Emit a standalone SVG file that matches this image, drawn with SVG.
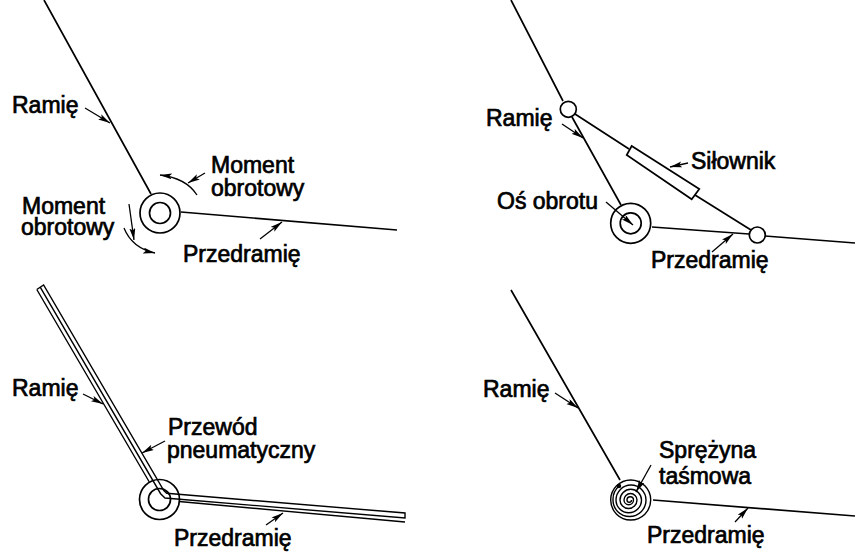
<svg xmlns="http://www.w3.org/2000/svg" width="855" height="553" viewBox="0 0 855 553">
<defs>
<marker id="a" markerUnits="userSpaceOnUse" markerWidth="13" markerHeight="8" refX="12" refY="3" orient="auto"><path d="M0 0L12 3L0 6L2.5 3Z" fill="#000"/></marker>
</defs>
<style>
.l{fill:none;stroke:#000;stroke-width:1.7;stroke-linecap:butt}
.s{fill:none;stroke:#000;stroke-width:1.4;stroke-linecap:butt}
.j{fill:#fff;stroke:#000;stroke-width:1.7}
.c{fill:none;stroke:#000;stroke-width:1.3;marker-end:url(#a)}
text{font-family:"Liberation Sans",Arial,sans-serif;font-size:23px;fill:#000;stroke:#000;stroke-width:.7}
</style>
<rect width="855" height="553" fill="#fff"/>
<g id="panel-torque">
<path class="l" d="M44 0L151 194M181 212L397 230"/>
<circle class="l" cx="160" cy="213" r="20"/><circle class="l" cx="160" cy="213" r="10.5"/>
<text x="12" y="113">Ramię</text>
<text x="211" y="173">Moment</text><text x="211" y="196">obrotowy</text>
<text x="22" y="214">Moment</text><text x="21" y="235">obrotowy</text>
<text x="183" y="262">Przedramię</text>
</g>
<g id="panel-actuator">
<path class="l" d="M511 0L563 101M572 117L621 205M652 227L749 234M765 236L855 243M575 114L629 149M695 195L751 230"/>
<circle class="l" cx="630.7" cy="223.3" r="20"/><circle class="l" cx="630.7" cy="223.3" r="10.5"/>
<circle class="j" cx="568.3" cy="109.3" r="8"/><circle class="j" cx="757.3" cy="235" r="8"/>
<path class="l" d="M631.7 146L626.7 155L691.7 199.3L699.3 189Z"/>
<text x="486" y="126">Ramię</text><text x="691" y="169">Siłownik</text>
<text x="497" y="209">Oś obrotu</text><text x="651" y="268">Przedramię</text>
</g>
<g id="panel-pneumatic">
<path class="s" d="M36.8 289.5L149.3 482M36.8 289.5L43.6 285L163.8 490.5L166.7 493.3L405 513L405 518L165 498L160.6 493.7L40.2 287.2M179 501.5L405 522"/>
<circle class="l" cx="159.5" cy="499.5" r="20"/><circle class="l" cx="159.5" cy="499.5" r="11"/>
<text x="12" y="396">Ramię</text><text x="168" y="435">Przewód</text><text x="167" y="458">pneumatyczny</text><text x="174" y="546">Przedramię</text>
</g>
<g id="panel-spring">
<path class="l" d="M511 290L620 480M653 500L855 516"/>
<circle class="s" cx="630.7" cy="500" r="20"/>
<path class="s" d="M631.5 500A2.25 2.25 0 0 1 627 500A3.25 3.25 0 0 1 633.5 500A4.75 4.75 0 0 1 624 500A6.5 6.5 0 0 1 637 500A8.5 8.5 0 0 1 620 500A10.75 10.75 0 0 1 641.5 500A12.75 12.75 0 0 1 616 500A15 15 0 0 1 646 500A16.5 16.5 0 0 1 613 500A18 18 0 0 1 619 486"/>
<circle cx="619" cy="486" r="2.2" fill="#000"/>
<text x="483" y="397">Ramię</text><text x="659" y="458">Sprężyna</text><text x="659" y="484">taśmowa</text><text x="647" y="543">Przedramię</text>
</g>
<g id="connectors">
<path class="c" d="M85 108L110 123"/><path class="c" d="M205 173L188 183"/><path class="c" d="M197 195Q186 178 160 175"/>
<path class="c" d="M129 204L134 240"/><path class="c" d="M124 228Q132 248 155 253"/><path class="c" d="M260 239L282 222"/>
<path class="c" d="M562 124L583 138"/><path class="c" d="M688 163L670 167"/><path class="c" d="M606 202L633 225"/><path class="c" d="M712 252L733 234"/>
<path class="c" d="M83 394L103 404"/><path class="c" d="M165 441L142 453"/><path class="c" d="M266 525L283 513"/>
<path class="c" d="M555 393L578 408"/><path class="c" d="M651 465L636 492"/><path class="c" d="M735 522L748 508"/>
</g>
</svg>
